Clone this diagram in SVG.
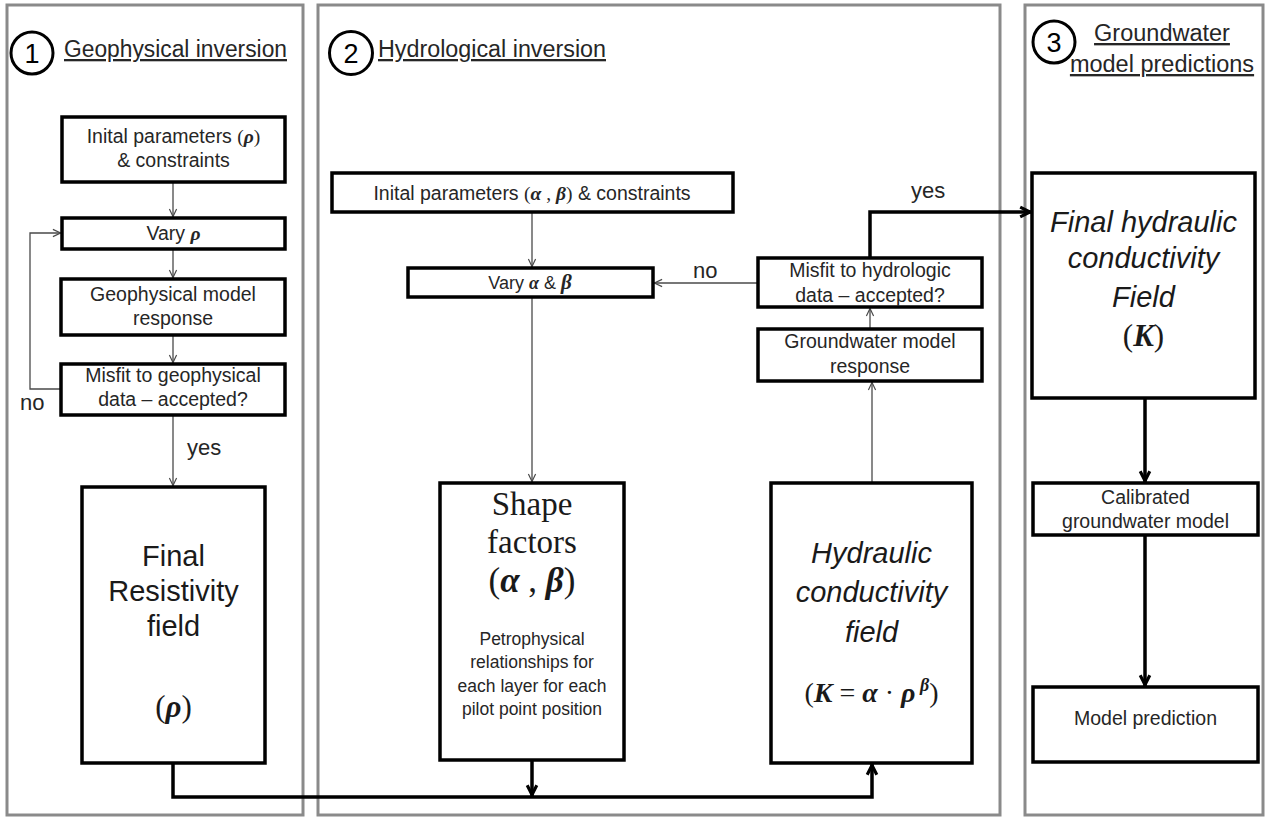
<svg xmlns="http://www.w3.org/2000/svg" width="1266" height="817" viewBox="0 0 1266 817">
<style>
.panel{fill:#fff;stroke:#8a8a8a;stroke-width:3}
.box{fill:#fff;stroke:#000;stroke-width:3.5}
.t{font-family:"Liberation Sans",Arial,sans-serif;font-size:19.5px;fill:#262626;text-anchor:middle}
.ti{font-family:"Liberation Sans",Arial,sans-serif;font-style:italic;fill:#1a1a1a;text-anchor:middle}
.big{font-family:"Liberation Sans",Arial,sans-serif;font-size:29px;fill:#1a1a1a;text-anchor:middle}
.ser{font-family:"Liberation Serif","Times New Roman",serif;fill:#1a1a1a;text-anchor:middle}
.mb{font-family:"Liberation Serif","Times New Roman",serif;font-weight:bold;font-style:italic}
.m{font-family:"Liberation Serif","Times New Roman",serif;font-weight:normal;font-style:normal}
.title{font-family:"Liberation Sans",Arial,sans-serif;font-size:23px;fill:#262626;text-decoration:underline}
.num{font-family:"Liberation Sans",Arial,sans-serif;font-size:27px;fill:#000;text-anchor:middle}
.circ{fill:none;stroke:#000;stroke-width:3}
.lab{font-family:"Liberation Sans",Arial,sans-serif;font-size:22px;fill:#262626}
.thin{fill:none;stroke:#4a4a4a;stroke-width:1.3}
.thick{fill:none;stroke:#000;stroke-width:3.5}
</style>
<defs>
<marker id="a" viewBox="0 0 10 10" refX="10" refY="5" markerWidth="9" markerHeight="11" markerUnits="userSpaceOnUse" orient="auto">
<path d="M1,1 L9.5,5 L1,9" fill="none" stroke="#4a4a4a" stroke-width="1.3"/>
</marker>
<marker id="b" viewBox="0 0 10 10" refX="10" refY="5" markerWidth="12" markerHeight="14" markerUnits="userSpaceOnUse" orient="auto">
<path d="M1,1 L9,5 L1,9" fill="none" stroke="#000" stroke-width="2.6"/>
</marker>
</defs>

<g id="panels">
<rect class="panel" x="7" y="5" width="296" height="810"/>
<rect class="panel" x="318" y="5" width="682" height="810"/>
<rect class="panel" x="1025" y="5" width="238" height="810"/>
</g>

<g id="titles">
<g id="title1">
<circle class="circ" cx="32" cy="53" r="21"/>
<text class="num" x="32" y="63">1</text>
<text class="title" x="64" y="57" textLength="223" lengthAdjust="spacingAndGlyphs">Geophysical inversion</text>
</g>
<g id="title2">
<circle class="circ" cx="351" cy="53" r="21.5"/>
<text class="num" x="351" y="63">2</text>
<text class="title" x="378" y="57" textLength="228" lengthAdjust="spacingAndGlyphs">Hydrological inversion</text>
</g>
<g id="title3">
<circle class="circ" cx="1054" cy="42" r="21"/>
<text class="num" x="1054" y="52">3</text>
<text class="title" x="1162" y="41" text-anchor="middle" style="font-size:23.5px">Groundwater</text>
<text class="title" x="1162" y="72" text-anchor="middle" style="font-size:23.5px">model predictions</text>
</g>
</g>

<g id="connectors">
<path class="thin" d="M173,182 V217" marker-end="url(#a)"/>
<path class="thin" d="M173,249 V278" marker-end="url(#a)"/>
<path class="thin" d="M173,335 V363" marker-end="url(#a)"/>
<path class="thin" d="M173,415 V486" marker-end="url(#a)"/>
<path class="thin" d="M61,389 H30 V233 H61" marker-end="url(#a)"/>
<path class="thin" d="M532,212 V267" marker-end="url(#a)"/>
<path class="thin" d="M532,297 V482" marker-end="url(#a)"/>
<path class="thin" d="M758,283 H654" marker-end="url(#a)"/>
<path class="thin" d="M872,483 V382" marker-end="url(#a)"/>
<path class="thin" d="M870,329 V308" marker-end="url(#a)"/>
<path class="thick" d="M870,258 V212 H1031" marker-end="url(#b)"/>
<path class="thick" d="M1145,398 V482" marker-end="url(#b)"/>
<path class="thick" d="M1145,535 V686" marker-end="url(#b)"/>
<path class="thick" d="M173,763 V797 H872 V764" marker-end="url(#b)"/>
<path class="thick" d="M532,760 V796" marker-end="url(#b)"/>
<text class="lab" x="20" y="410">no</text>
<text class="lab" x="187" y="455">yes</text>
<text class="lab" x="693" y="278">no</text>
<text class="lab" x="911" y="198">yes</text>
</g>

<g id="n1">
<rect class="box" x="62" y="117" width="223" height="65"/>
<text class="t" x="173.5" y="143">Inital parameters <tspan class="m">(</tspan><tspan class="mb">ρ</tspan><tspan class="m">)</tspan></text>
<text class="t" x="173.5" y="167">&amp; constraints</text>
</g>
<g id="n2">
<rect class="box" x="62" y="218" width="223" height="31"/>
<text class="t" x="173.5" y="240">Vary <tspan class="mb">ρ</tspan></text>
</g>
<g id="n3">
<rect class="box" x="61" y="279" width="224" height="56"/>
<text class="t" x="173" y="301">Geophysical model</text>
<text class="t" x="173" y="325">response</text>
</g>
<g id="n4">
<rect class="box" x="61" y="364" width="224" height="51"/>
<text class="t" x="173" y="382">Misfit to geophysical</text>
<text class="t" x="173" y="406">data – accepted?</text>
</g>
<g id="n5">
<rect class="box" x="82" y="487" width="183" height="276"/>
<text class="big" x="173.5" y="566">Final</text>
<text class="big" x="173.5" y="601">Resistivity</text>
<text class="big" x="173.5" y="636">field</text>
<text class="ser" x="173.5" y="717" style="font-size:31px">(<tspan class="mb">ρ</tspan>)</text>
</g>

<g id="n6">
<rect class="box" x="332" y="173" width="401" height="39"/>
<text class="t" x="532" y="200">Inital parameters <tspan class="m">(</tspan><tspan class="mb">α</tspan><tspan class="m"> , </tspan><tspan class="mb">β</tspan><tspan class="m">)</tspan> &amp; constraints</text>
</g>
<g id="n7">
<rect class="box" x="408" y="268" width="245" height="29"/>
<text class="t" x="530" y="289" style="font-size:18px">Vary <tspan class="mb">α</tspan> &amp; <tspan class="mb" style="font-size:21px">β</tspan></text>
</g>
<g id="n8">
<rect class="box" x="440" y="483" width="184" height="277"/>
<text class="ser" x="532" y="515" style="font-size:33px">Shape</text>
<text class="ser" x="532" y="553" style="font-size:33px">factors</text>
<text class="ser" x="532" y="592" style="font-size:35px">(<tspan class="mb">α</tspan> , <tspan class="mb">β</tspan>)</text>
<text class="t" x="532" y="645" style="font-size:17.5px">Petrophysical</text>
<text class="t" x="532" y="668" style="font-size:17.5px">relationships for</text>
<text class="t" x="532" y="692" style="font-size:17.5px">each layer for each</text>
<text class="t" x="532" y="715" style="font-size:17.5px">pilot point position</text>
</g>
<g id="n9">
<rect class="box" x="771" y="483" width="201" height="280"/>
<text class="ti" x="871.5" y="563" style="font-size:29px">Hydraulic</text>
<text class="ti" x="871.5" y="602" style="font-size:29px">conductivity</text>
<text class="ti" x="871.5" y="642" style="font-size:29px">field</text>
<text class="ser" x="871.5" y="702" style="font-size:28px">(<tspan class="mb">K</tspan> = <tspan class="mb">α</tspan> · <tspan class="mb">ρ</tspan><tspan class="mb" dy="-11" style="font-size:18px"> β</tspan><tspan dy="11">)</tspan></text>
</g>
<g id="n10">
<rect class="box" x="758" y="329" width="224" height="52"/>
<text class="t" x="870" y="348">Groundwater  model</text>
<text class="t" x="870" y="373">response</text>
</g>
<g id="n11">
<rect class="box" x="758" y="258" width="224" height="49"/>
<text class="t" x="870" y="277">Misfit to hydrologic</text>
<text class="t" x="870" y="302">data – accepted?</text>
</g>

<g id="n12">
<rect class="box" x="1032" y="173" width="223" height="225"/>
<text class="ti" x="1143.5" y="232" style="font-size:29px">Final hydraulic</text>
<text class="ti" x="1143.5" y="268" style="font-size:29px">conductivity</text>
<text class="ti" x="1143.5" y="307" style="font-size:29px">Field</text>
<text class="ser" x="1143.5" y="346" style="font-size:31px">(<tspan class="mb">K</tspan>)</text>
</g>
<g id="n13">
<rect class="box" x="1033" y="483" width="225" height="52"/>
<text class="t" x="1145.5" y="504">Calibrated</text>
<text class="t" x="1145.5" y="528">groundwater model</text>
</g>
<g id="n14">
<rect class="box" x="1033" y="687" width="225" height="75"/>
<text class="t" x="1145.5" y="725">Model prediction</text>
</g>
</svg>
